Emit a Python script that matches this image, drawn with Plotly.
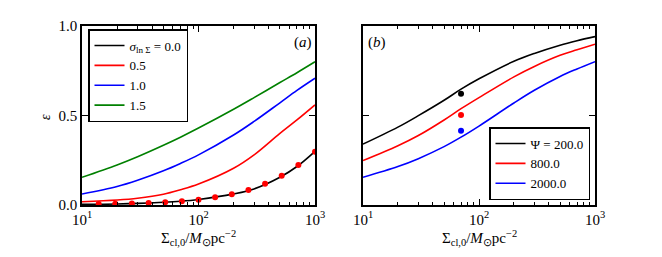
import plotly.graph_objects as go

# ---- data ----
x_curve = [10, 20, 30, 50, 70, 100, 200, 300, 500, 700, 1000]
# panel (a): sigma_lnSigma curves
sig_labels = ["<i>σ</i><sub>ln Σ</sub> = 0.0", "0.5", "1.0", "1.5"]
a_black = [0.004, 0.006, 0.009, 0.015, 0.021, 0.031, 0.062, 0.090, 0.155, 0.215, 0.300]
a_red = [0.018, 0.028, 0.038, 0.060, 0.085, 0.117, 0.205, 0.280, 0.400, 0.475, 0.559]
a_blue = [0.061, 0.103, 0.138, 0.191, 0.232, 0.280, 0.391, 0.467, 0.571, 0.640, 0.708]
a_green = [0.155, 0.224, 0.270, 0.334, 0.379, 0.430, 0.535, 0.600, 0.684, 0.739, 0.800]
# panel (a): red dots
dot_x = [13.9, 19.3, 26.8, 37.3, 51.8, 72.0, 100.0, 138.9, 193.1, 268.3, 372.8, 517.9, 719.7, 1000.0]
dot_y = [0.006, 0.007, 0.009, 0.011, 0.016, 0.021, 0.030, 0.043, 0.060, 0.084, 0.119, 0.164, 0.223, 0.297]
# panel (b): Psi curves
psi_labels = ["Ψ = 200.0", "800.0", "2000.0"]
b_black = [0.340, 0.435, 0.499, 0.585, 0.647, 0.705, 0.803, 0.847, 0.893, 0.918, 0.941]
b_red = [0.248, 0.331, 0.388, 0.475, 0.538, 0.600, 0.716, 0.774, 0.836, 0.867, 0.898]
b_blue = [0.155, 0.215, 0.259, 0.326, 0.379, 0.441, 0.570, 0.641, 0.718, 0.760, 0.801]
b_pt_x = [70, 70, 70]
b_pt_y = [0.621, 0.503, 0.415]

FONT = "Liberation Serif"
fig = go.Figure()

a_series = [a_black, a_red, a_blue, a_green]
a_colors = ["black", "red", "blue", "green"]
for lab, ys, c in zip(sig_labels, a_series, a_colors):
    fig.add_trace(go.Scatter(x=x_curve, y=ys, mode="lines",
                             line=dict(color=c, width=1.6, shape="spline", smoothing=1.0),
                             name=lab, legend="legend", xaxis="x", yaxis="y"))
fig.add_trace(go.Scatter(x=dot_x, y=dot_y, mode="markers", marker=dict(color="red", size=6),
                         showlegend=False, xaxis="x", yaxis="y"))

b_series = [b_black, b_red, b_blue]
b_colors = ["black", "red", "blue"]
for lab, ys, c in zip(psi_labels, b_series, b_colors):
    fig.add_trace(go.Scatter(x=x_curve, y=ys, mode="lines",
                             line=dict(color=c, width=1.6, shape="spline", smoothing=1.0),
                             name=lab, legend="legend2", xaxis="x2", yaxis="y2"))
fig.add_trace(go.Scatter(x=b_pt_x, y=b_pt_y, mode="markers", marker=dict(color=b_colors, size=6),
                         showlegend=False, xaxis="x2", yaxis="y2"))

W, H = 662, 257
def fx(p): return p / W
def fy(p): return 1 - p / H

minor_vals = [20, 30, 40, 50, 60, 70, 80, 90, 200, 300, 400, 500, 600, 700, 800, 900]
xcommon = dict(type="log", range=[1, 3], showline=True, linecolor="black", linewidth=1.5, mirror="ticks",
               ticks="inside", ticklen=6, tickcolor="black", tickwidth=1,
               tickvals=[10, 100, 1000], ticktext=["10<sup>1</sup>", "10<sup>2</sup>", "10<sup>3</sup>"],
               minor=dict(tickvals=minor_vals, ticks="inside", ticklen=3, tickcolor="black", tickwidth=1),
               showgrid=False, zeroline=False, automargin=False,
               tickfont=dict(family=FONT, size=15, color="black"))
ycommon = dict(range=[0, 1], showline=True, linecolor="black", linewidth=1.5, mirror="ticks",
               ticks="inside", ticklen=6, tickcolor="black", tickwidth=1,
               tickvals=[0, 0.5, 1.0], ticktext=["0.0", "0.5", "1.0"],
               showgrid=False, zeroline=False, automargin=False,
               tickfont=dict(family=FONT, size=15, color="black"))

def ann(text, x, y, size=15, **kw):
    return dict(text=text, x=fx(x), y=fy(y), xref="paper", yref="paper", showarrow=False,
                xanchor="center", yanchor="middle", font=dict(family=FONT, size=size), **kw)

fig.update_layout(
    width=W, height=H, margin=dict(l=0, r=0, t=0, b=0, autoexpand=False),
    paper_bgcolor="white", plot_bgcolor="white",
    font=dict(family=FONT, size=13, color="black"),
    xaxis=dict(domain=[fx(82), fx(315)], anchor="y", **xcommon),
    yaxis=dict(domain=[fy(205), fy(26)], anchor="x", **ycommon),
    xaxis2=dict(domain=[fx(363), fx(595)], anchor="y2", **xcommon),
    yaxis2=dict(domain=[fy(205), fy(26)], anchor="x2", showticklabels=False, **ycommon),
    legend=dict(x=fx(88), y=fy(29), xanchor="left", yanchor="top", bordercolor="black", borderwidth=1.5,
                bgcolor="white", font=dict(family=FONT, size=13), tracegroupgap=0, itemwidth=30),
    legend2=dict(x=fx(590), y=fy(200), xanchor="right", yanchor="bottom", bordercolor="black", borderwidth=1.5,
                 bgcolor="white", font=dict(family=FONT, size=13), tracegroupgap=0, itemwidth=30),
    annotations=[
        ann("(<i>a</i>)", 303, 43),
        ann("(<i>b</i>)", 377, 43),
        ann("<i>ε</i>", 46, 117, size=14, textangle=-90),
        ann("Σ<sub>cl,0</sub>/<i>M</i><sub>⊙</sub>pc<sup>−2</sup>", 198, 238),
        ann("Σ<sub>cl,0</sub>/<i>M</i><sub>⊙</sub>pc<sup>−2</sup>", 479, 238),
    ],
)

fig.write_html("out.html", config={"displayModeBar": False},
               post_script="document.body.style.margin='0';document.body.style.overflow='hidden';")
